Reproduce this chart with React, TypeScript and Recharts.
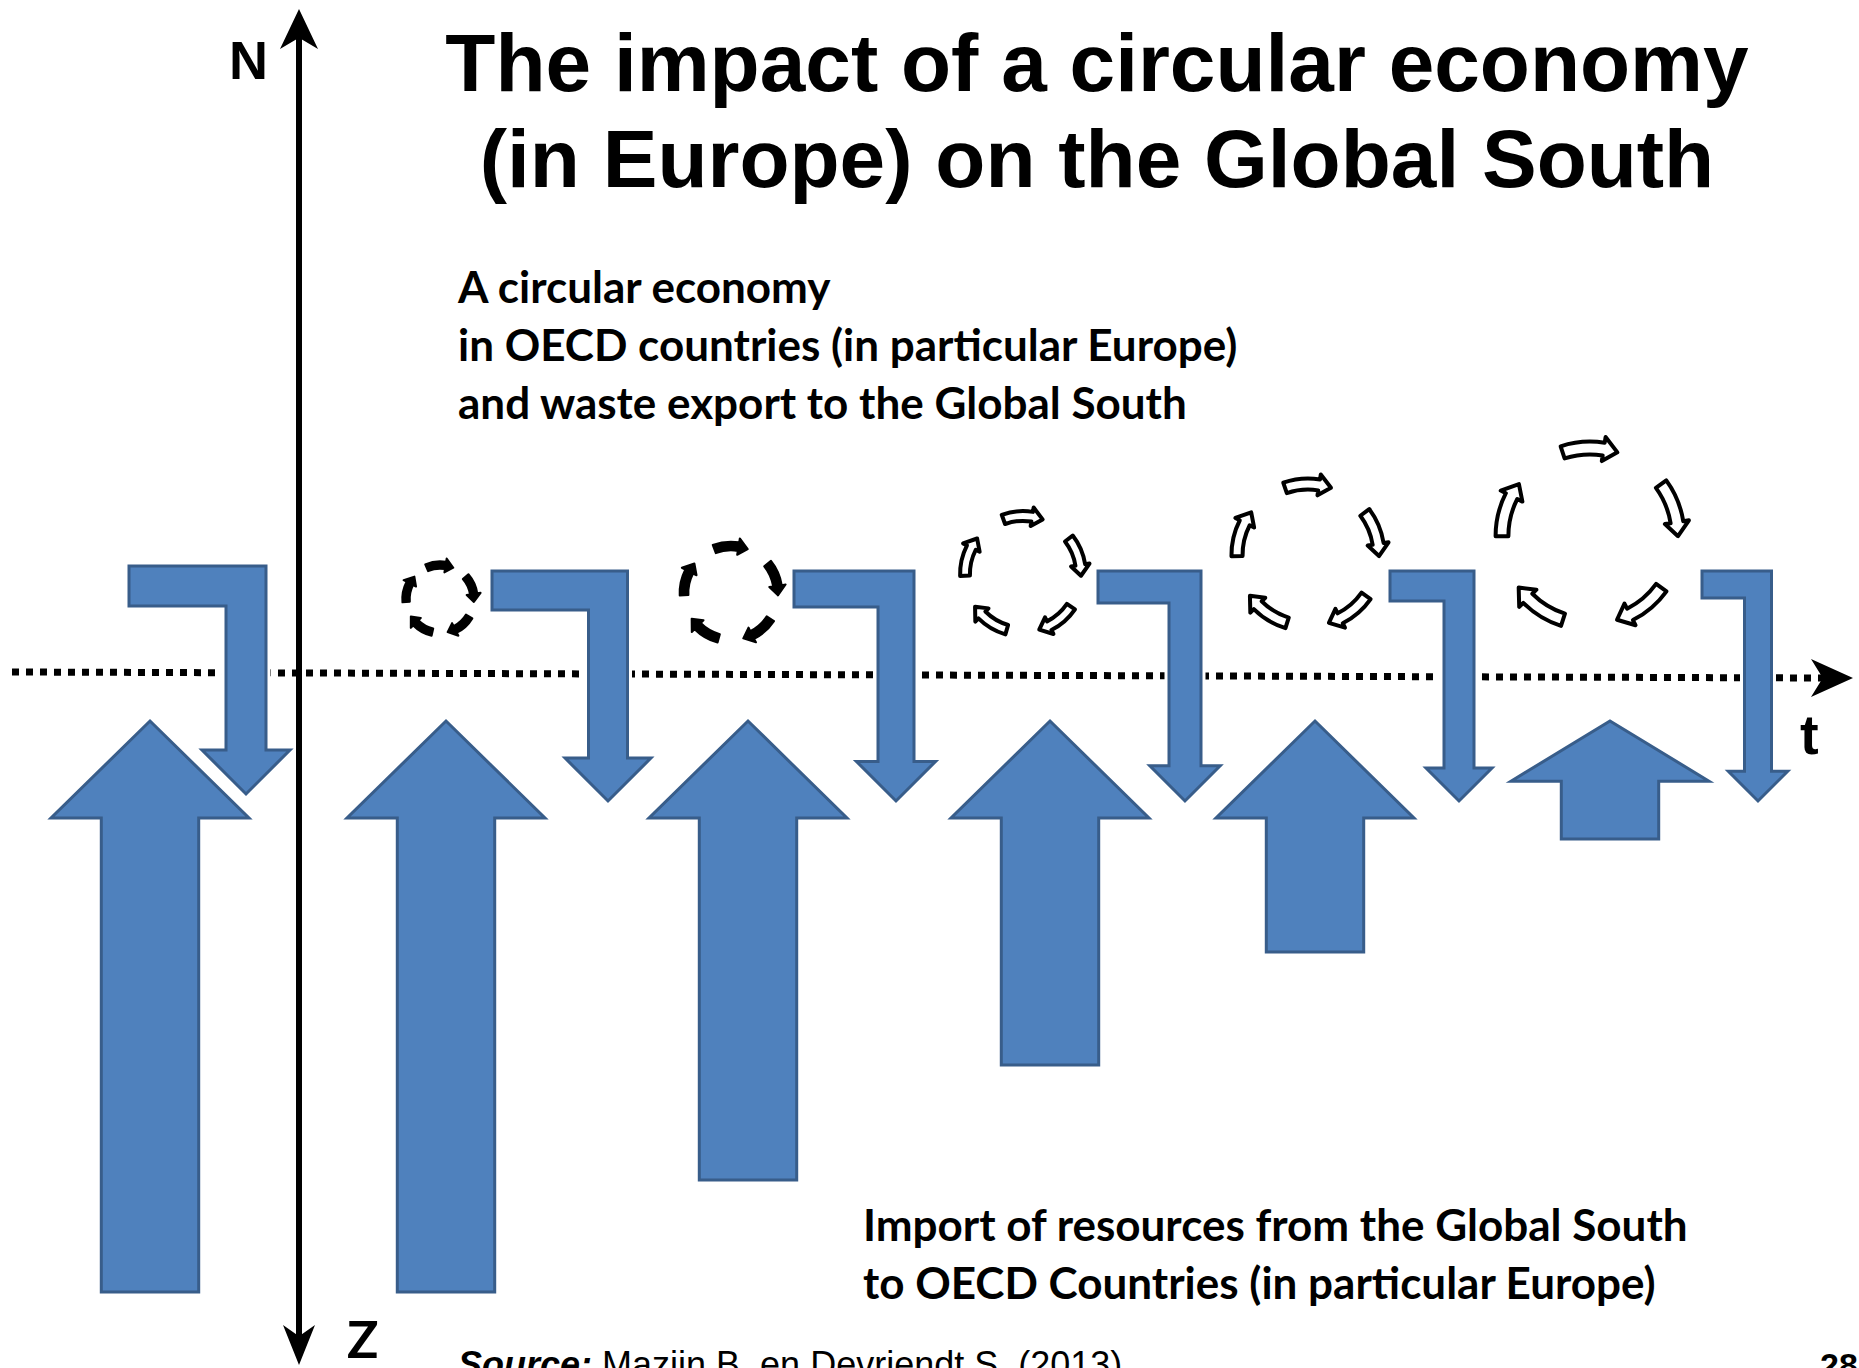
import React from "react";
import {
  ComposedChart,
  Customized,
  ReferenceArea,
  ReferenceDot,
  ReferenceLine,
  XAxis,
  YAxis,
} from "recharts";

const W = 1859;
const H = 1368;

// position of each snapshot along the time axis (t)
const stageT = [150, 446, 748, 1050, 1315, 1610];
// import of resources from the Global South: arrow length below the t axis
const importLen = [571, 571, 459, 344, 231, 118];
const importTip = -46;

// waste export to the Global South (bent arrows)
const wasteStart = [129, 492, 794, 1098, 1390, 1702];
const wasteShaft = [246, 608, 896, 1185, 1459, 1758];
const wasteWidth = [40, 39, 36, 32, 30, 27];
const wasteTop = [109, 104, 104, 104, 104, 104];
const wasteTip = [-119, -126, -126, -126, -126, -126];

// circular economy loops, growing over time
const loopT = [440, 731, 1023, 1308, 1590];
const loopY = [76, 82, 101, 120, 139];
const loopR = [34, 47, 58, 71, 88];

// the t axis runs slightly downhill from left to right
const tAxisX = [12, 1826];
const tAxisY = [3, -3];

const rows = stageT.map((t, i) => ({ t, imp: importLen[i], waste: wasteWidth[i] }));

const FILL = "#4F81BD";
const EDGE = "#385D8A";
const HEAD = 1.1;

const pts = (list: number[][]) => list.map((q) => q.join(",")).join(" ");

function upArrow(p: any) {
  const { x, y, width, height } = p;
  const cx = x + width / 2;
  const sh = width * 0.246;
  const hl = Math.min(width * 0.49, height * 0.51);
  return (
    <polygon
      points={pts([
        [cx, y],
        [x + width, y + hl],
        [cx + sh, y + hl],
        [cx + sh, y + height],
        [cx - sh, y + height],
        [cx - sh, y + hl],
        [x, y + hl],
      ])}
      fill={FILL}
      stroke={EDGE}
      strokeWidth={3}
    />
  );
}

const bentArrow = (i: number) => (p: any) => {
  const { x, y, width, height } = p;
  const span = wasteShaft[i] + HEAD * wasteWidth[i] - wasteStart[i];
  const s = wasteWidth[i] * (width / span);
  const hw = HEAD * s;
  const cx = x + width - hw;
  const yb = y + height;
  const hl = hw;
  const shape = pts([
    [x, y],
    [cx + s / 2, y],
    [cx + s / 2, yb - hl],
    [cx + hw, yb - hl],
    [cx, yb],
    [cx - hw, yb - hl],
    [cx - s / 2, yb - hl],
    [cx - s / 2, y + s],
    [x, y + s],
  ]);
  return (
    <g>
      <polygon points={shape} fill="#fff" stroke="#fff" strokeWidth={9} />
      <polygon points={shape} fill={FILL} stroke={EDGE} strokeWidth={3} />
    </g>
  );
};

function loopShape(p: any) {
  const { x, y, width } = p;
  const r = width / 2;
  const cx = x + r;
  const cy = y + r;
  const solid = r < 50;
  const bw = 4 + r * 0.1;
  const span = ((30 + 550 / r) * Math.PI) / 180;
  const P = (R: number, a: number) =>
    `${(cx + R * Math.sin(a)).toFixed(2)},${(cy - R * Math.cos(a)).toFixed(2)}`;
  return (
    <g>
      {[0, 1, 2, 3, 4].map((j) => {
        const a0 = (j * 2 * Math.PI) / 5;
        const a1 = a0 - span / 2;
        const a3 = a0 + span / 2;
        const hl = bw * 1.1;
        const a2 = a3 - hl / r;
        const hw = bw * 0.95;
        const ro = r + bw / 2;
        const ri = r - bw / 2;
        const d = `M${P(ro, a1)} A${ro},${ro} 0 0 1 ${P(ro, a2)} L${P(r + hw, a2)} L${P(r, a3)} L${P(r - hw, a2)} L${P(ri, a2)} A${ri},${ri} 0 0 0 ${P(ri, a1)} Z`;
        return (
          <path
            key={j}
            d={d}
            fill={solid ? "#000" : "#fff"}
            stroke="#000"
            strokeWidth={solid ? 2 : 4}
            strokeLinejoin="round"
          />
        );
      })}
    </g>
  );
}

// dotted time axis drawn from the top-left to the bottom-right corner of its box
function dottedAxis(p: any) {
  const { x, y, width, height } = p;
  return (
    <line
      x1={x}
      y1={y}
      x2={x + width}
      y2={y + height}
      stroke="#000"
      strokeWidth={7}
      strokeDasharray="7 7"
    />
  );
}

const arrowHead = (dir: "up" | "down" | "right", len: number, half: number) => (p: any) => {
  const { cx, cy } = p;
  const rot = dir === "right" ? 0 : dir === "up" ? -90 : 90;
  return (
    <polygon
      points={pts([
        [0, 0],
        [-len, -half],
        [-len * 0.72, 0],
        [-len, half],
      ])}
      transform={`translate(${cx},${cy}) rotate(${rot})`}
      fill="#000"
    />
  );
};

const SANS = "'Liberation Sans', Arial, sans-serif";
const BODY = "Lato, 'Noto Sans', sans-serif";

function Texts() {
  return (
    <g>
      <text x={1097} y={91} textAnchor="middle" fontFamily={SANS} fontWeight={700} fontSize={82}>
        The impact of a circular economy
      </text>
      <text x={1097} y={187} textAnchor="middle" fontFamily={SANS} fontWeight={700} fontSize={82}>
        (in Europe) on the Global South
      </text>
      <text x={229} y={79} fontFamily={SANS} fontWeight={700} fontSize={54}>
        N
      </text>
      <text x={1800} y={754} fontFamily={SANS} fontWeight={700} fontSize={56}>
        t
      </text>
      <text x={347} y={1358} fontFamily={BODY} fontWeight={700} fontSize={52}>
        Z
      </text>
      <g fontFamily={BODY} fontWeight={700} fontSize={44}>
        <text x={458} y={303}>A circular economy</text>
        <text x={458} y={361}>in OECD countries (in particular Europe)</text>
        <text x={458} y={419}>and waste export to the Global South</text>
        <text x={863} y={1241}>Import of resources from the Global South</text>
        <text x={863} y={1299}>to OECD Countries (in particular Europe)</text>
      </g>
      <text x={458} y={1377} fontFamily={SANS} fontSize={36}>
        <tspan fontWeight={700} fontStyle="italic">Source:</tspan> Mazijn B. en Devriendt S. (2013)
      </text>
      <text x={1820} y={1377} fontFamily={SANS} fontWeight={700} fontSize={34}>
        28
      </text>
    </g>
  );
}

export default function App() {
  return (
    <div style={{ width: W, height: H, background: "#fff" }}>
      <style>{"body{margin:0;overflow:hidden;background:#fff}"}</style>
      <ComposedChart width={W} height={H} data={rows} margin={{ top: 0, right: 0, bottom: 0, left: 0 }}>
        <XAxis type="number" dataKey="t" domain={[0, W]} hide allowDataOverflow />
        <YAxis type="number" domain={[-693, 675]} hide allowDataOverflow />

        {/* time axis, kept underneath the arrows */}
        <ReferenceArea
          x1={tAxisX[0]}
          x2={tAxisX[1]}
          y1={tAxisY[1]}
          y2={tAxisY[0]}
          shape={dottedAxis}
          ifOverflow="visible"
        />

        {/* circular economy loops */}
        {loopT.map((t, i) => (
          <ReferenceArea
            key={`loop${i}`}
            x1={t - loopR[i]}
            x2={t + loopR[i]}
            y1={loopY[i] - loopR[i]}
            y2={loopY[i] + loopR[i]}
            shape={loopShape}
            ifOverflow="visible"
          />
        ))}

        {/* import of resources */}
        {stageT.map((t, i) => (
          <ReferenceArea
            key={`imp${i}`}
            x1={t - 99}
            x2={t + 99}
            y1={importTip - importLen[i]}
            y2={importTip}
            shape={upArrow}
            ifOverflow="visible"
          />
        ))}

        {/* waste export */}
        {wasteStart.map((s, i) => (
          <ReferenceArea
            key={`waste${i}`}
            x1={s}
            x2={wasteShaft[i] + HEAD * wasteWidth[i]}
            y1={wasteTip[i]}
            y2={wasteTop[i]}
            shape={bentArrow(i)}
            ifOverflow="visible"
          />
        ))}

        <ReferenceDot x={1853} y={-3} r={1} shape={arrowHead("right", 42, 19)} ifOverflow="visible" />

        {/* N - Z axis */}
        <ReferenceLine
          segment={[
            { x: 299, y: 640 },
            { x: 299, y: -665 },
          ]}
          stroke="#000"
          strokeWidth={6}
          ifOverflow="visible"
        />
        <ReferenceDot x={299} y={666} r={1} shape={arrowHead("up", 40, 19)} ifOverflow="visible" />
        <ReferenceDot x={299} y={-690} r={1} shape={arrowHead("down", 40, 16)} ifOverflow="visible" />

        <Customized component={Texts} />
      </ComposedChart>
    </div>
  );
}
